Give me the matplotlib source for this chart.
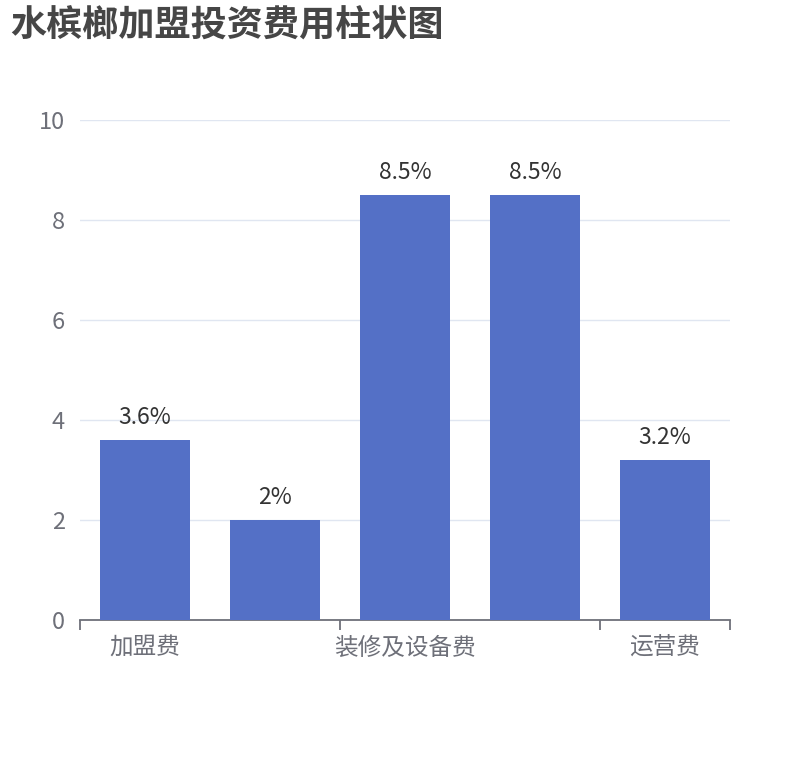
import matplotlib
matplotlib.use('Agg')
import matplotlib.pyplot as plt

plt.rcParams['font.family'] = ['Noto Sans CJK SC', 'DejaVu Sans']

# 数据
categories = ['加盟费', '店面租金', '装修及设备费', '人员工资', '运营费']
values = [3.6, 2, 8.5, 8.5, 3.2]
labels = ['3.6%', '2%', '8.5%', '8.5%', '3.2%']
yticks = [0, 2, 4, 6, 8, 10]

W, H = 810, 760
fig = plt.figure(figsize=(W / 100, H / 100), dpi=100)
ax = fig.add_axes([80 / W, (H - 620) / H, 650 / W, 500 / H])

x = range(len(categories))
bars = ax.bar(x, values, width=0.69, color='#5470C6', zorder=3)
for b, lab in zip(bars, labels):
    ax.annotate(lab, (b.get_x() + b.get_width() / 2, b.get_height()),
                xytext=(0, 8), textcoords='offset points',
                ha='center', va='bottom', fontsize=16.5, color='#333333')

ax.set_xlim(-0.5, len(categories) - 0.5)
ax.set_ylim(0, 10)
ax.set_yticks(yticks)
ax.yaxis.grid(True, color='#E0E6F1', linewidth=1, zorder=0)
ax.tick_params(axis='y', length=0, labelsize=17, labelcolor='#6E7079', pad=11)

# 只显示间隔标签, 刻度在类目边界
ax.set_xticks([0, 2, 4])
ax.set_xticklabels([categories[0], categories[2], categories[4]])
ax.tick_params(axis='x', length=0, labelsize=17, labelcolor='#6E7079', pad=12)
ax.set_xticks([-0.5, 1.5, 3.5, 4.5], minor=True)
ax.tick_params(axis='x', which='minor', length=7, color='#6E7079', width=1.3)

for s in ['top', 'right', 'left']:
    ax.spines[s].set_visible(False)
ax.spines['bottom'].set_color('#6E7079')
ax.spines['bottom'].set_linewidth(1.3)

fig.text(10 / W, 1 - 26 / H, '水槟榔加盟投资费用柱状图', fontsize=26, fontweight='bold',
         color='#464646', va='center', ha='left')

fig.savefig('out.png', dpi=100)
